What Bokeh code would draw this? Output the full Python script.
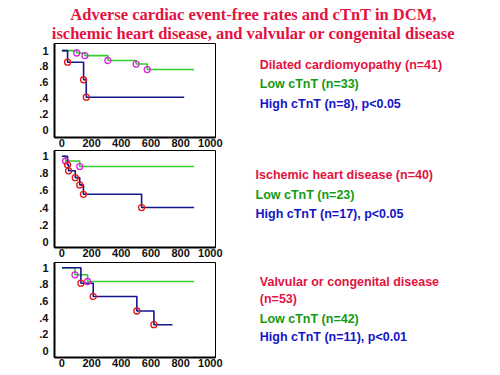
from bokeh.plotting import figure
from bokeh.layouts import column, row
from bokeh.models import Range1d, FixedTicker, ColumnDataSource
from bokeh.core.properties import value
from bokeh.embed import file_html
from bokeh.resources import INLINE

# ---------------- data ----------------
TITLE_LINES = ["Adverse cardiac event-free rates and cTnT in DCM,",
               "ischemic heart disease, and valvular or congenital disease"]

X_TICKS = [0, 200, 400, 600, 800, 1000]
X_TICK_LABELS = ["0", "200", "400", "600", "800", "1000"]
Y_TICKS = [0, 0.2, 0.4, 0.6, 0.8, 1.0]
Y_TICK_LABELS = ["0", ".2", ".4", ".6", ".8", "1"]

# Dilated cardiomyopathy
DCM_LOW_T = [0, 100, 155, 310, 500, 575, 890]
DCM_LOW_S = [1.0, 0.97, 0.937, 0.875, 0.83, 0.76, 0.76]
DCM_HIGH_T = [0, 38, 146, 164, 824]
DCM_HIGH_S = [1.0, 0.853, 0.631, 0.41, 0.41]

# Ischemic heart disease
IHD_LOW_T = [0, 25, 120, 891]
IHD_LOW_S = [1.0, 0.945, 0.88, 0.88]
IHD_HIGH_T = [0, 38, 45, 90, 120, 145, 537, 891]
IHD_HIGH_S = [1.0, 0.90, 0.83, 0.75, 0.665, 0.555, 0.40, 0.40]

# Valvular or congenital disease
VCD_LOW_T = [0, 88, 173, 891]
VCD_LOW_S = [1.0, 0.916, 0.835, 0.835]
VCD_HIGH_T = [0, 128, 211, 505, 620, 745]
VCD_HIGH_S = [1.0, 0.815, 0.655, 0.48, 0.315, 0.315]

PANEL_TEXTS = [
    ["Dilated cardiomyopathy (n=41)", "Low cTnT (n=33)", "High cTnT (n=8), p<0.05"],
    ["Ischemic heart disease (n=40)", "Low cTnT (n=23)", "High cTnT (n=17), p<0.05"],
    ["Valvular or congenital disease", "(n=53)", "Low cTnT (n=42)", "High cTnT (n=11), p<0.01"],
]
PANEL_TEXT_KINDS = [
    ["group", "low", "high"],
    ["group", "low", "high"],
    ["group", "group", "low", "high"],
]

# ---------------- styles ----------------
RED = "#e3123f"
GREEN_TXT = "#129a12"
BLUE_TXT = "#1414c8"
KIND_COLOR = {"group": RED, "low": GREEN_TXT, "high": BLUE_TXT}
LOW_LINE = "#33cc33"
HIGH_LINE = "#14148c"
LOW_MARK = "#dd22dd"
HIGH_MARK = "#e01818"
TICK_FONT = "Liberation Sans"
TXT_FONT = "Liberation Sans"

TOTAL_W = 500
KM_W = 229
TXT_W = TOTAL_W - KM_W

TITLE_H = 43
ROW_H = [107, 110, 115]
ROW_TOP_BORDER = [0, 0, 2]
ROW_BOTTOM_BORDER = [13, 13, 18]
Y_RANGES = [(-0.1, 1.09), (-0.068, 1.068), (-0.08, 1.064)]
TEXT_X = [30.3, 26, 30.3]
TEXT_Y = [[24.8, 46.2, 68.8], [27.5, 50.8, 71.8], [23.5, 44.5, 67.8, 90.2]]
TITLE_Y = [14.0, 33.2]


def km_figure(h, top, bottom, yr, low_t, low_s, high_t, high_s):
    p = figure(title=None, width=KM_W, height=h, x_range=Range1d(-50, 1035),
               y_range=Range1d(*yr), toolbar_location=None,
               output_backend="svg", min_border_left=54, min_border_right=14,
               min_border_top=top, min_border_bottom=bottom)
    p.grid.visible = False
    p.outline_line_color = "black"
    p.outline_line_width = 1
    p.background_fill_color = "white"
    p.border_fill_color = "white"
    for ax in (p.xaxis[0], p.yaxis[0]):
        ax.axis_line_width = 2
        ax.axis_line_color = "black"
        ax.major_tick_out = 0
        ax.major_tick_in = 0
        ax.minor_tick_out = 0
        ax.minor_tick_in = 0
        ax.major_label_text_font = TICK_FONT
        ax.major_label_text_font_size = "11px"
        ax.major_label_text_font_style = "bold"
        ax.major_label_text_color = "#111111"
    p.xaxis.ticker = FixedTicker(ticks=X_TICKS)
    p.xaxis.major_label_overrides = dict(zip(X_TICKS, X_TICK_LABELS))
    p.xaxis.major_label_standoff = 1
    p.yaxis.ticker = FixedTicker(ticks=Y_TICKS)
    p.yaxis.major_label_overrides = dict(zip(Y_TICKS, Y_TICK_LABELS))
    p.yaxis.major_label_standoff = 6

    p.step(low_t, low_s, mode="after", line_color=LOW_LINE, line_width=1.6)
    p.step(high_t, high_s, mode="after", line_color=HIGH_LINE, line_width=1.6)
    p.scatter(low_t[1:-1], low_s[1:-1], marker="circle", size=6,
              fill_color=None, line_color=LOW_MARK, line_width=1.3)
    p.scatter(high_t[1:-1], high_s[1:-1], marker="circle", size=6,
              fill_color=None, line_color=HIGH_MARK, line_width=1.3)
    return p


def text_figure(h, xs, ys, texts, kinds):
    p = figure(title=None, width=TXT_W, height=h, x_range=Range1d(0, TXT_W),
               y_range=Range1d(h, 0), toolbar_location=None,
               output_backend="svg", x_axis_location=None,
               y_axis_location=None, min_border=0)
    p.grid.visible = False
    p.outline_line_color = None
    src = ColumnDataSource(dict(x=[xs] * len(texts), y=ys, t=texts,
                                c=[KIND_COLOR[k] for k in kinds]))
    p.text(x="x", y="y", text="t", text_color="c", source=src,
           text_font=value(TXT_FONT), text_font_size="12.5px",
           text_font_style="bold", text_baseline="alphabetic",
           text_align="left")
    return p


# title
tp = figure(title=None, width=TOTAL_W, height=TITLE_H,
            x_range=Range1d(0, TOTAL_W), y_range=Range1d(TITLE_H, 0),
            toolbar_location=None, output_backend="svg",
            x_axis_location=None, y_axis_location=None, min_border=0)
tp.grid.visible = False
tp.outline_line_color = None
tp.text(x=[253, 253], y=TITLE_Y, text=TITLE_LINES, text_color=RED,
        text_font=value("Liberation Serif"), text_font_size="16.5px",
        text_font_style="bold", text_align="center",
        text_baseline="alphabetic")

data = [(DCM_LOW_T, DCM_LOW_S, DCM_HIGH_T, DCM_HIGH_S),
        (IHD_LOW_T, IHD_LOW_S, IHD_HIGH_T, IHD_HIGH_S),
        (VCD_LOW_T, VCD_LOW_S, VCD_HIGH_T, VCD_HIGH_S)]

rows = [tp]
for i in range(3):
    km = km_figure(ROW_H[i], ROW_TOP_BORDER[i], ROW_BOTTOM_BORDER[i],
                   Y_RANGES[i], *data[i])
    tx = text_figure(ROW_H[i], TEXT_X[i], TEXT_Y[i], PANEL_TEXTS[i],
                     PANEL_TEXT_KINDS[i])
    rows.append(row(km, tx))

layout = column(*rows)
open("out.html", "w").write(file_html(layout, INLINE))
